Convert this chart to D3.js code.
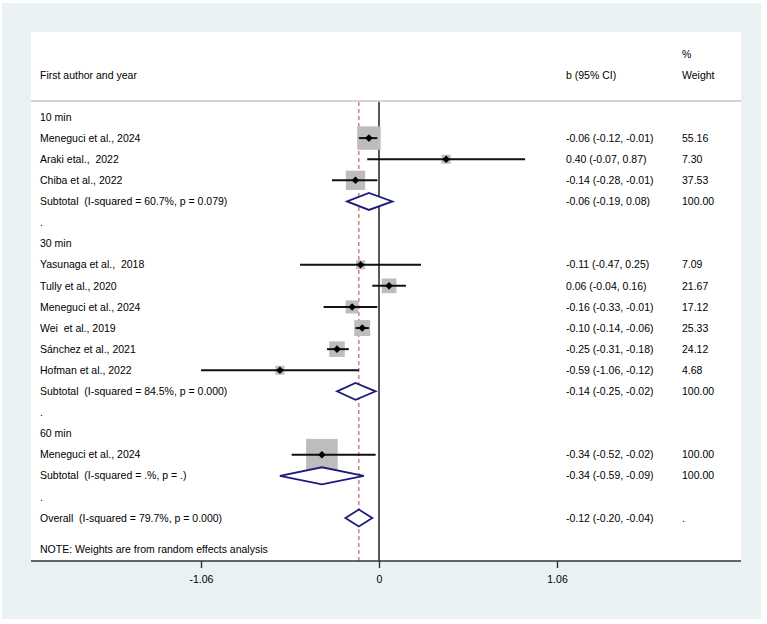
<!DOCTYPE html>
<html>
<head>
<meta charset="utf-8">
<script src="https://cdn.jsdelivr.net/npm/d3@7"></script>
<style>
  html, body { margin: 0; padding: 0; background: #ffffff; }
  svg text { font-family: "Liberation Sans", Arial, sans-serif; font-size: 10.5px; fill: #000000; white-space: pre; }
</style>
</head>
<body>
<svg id="chart" width="767" height="624" xml:space="preserve"></svg>
<script>
// ---------- data ----------
const rowLabels = [
  "10 min",
  "Meneguci et al., 2024",
  "Araki etal.,  2022",
  "Chiba et al., 2022",
  "Subtotal  (I-squared = 60.7%, p = 0.079)",
  ".",
  "30 min",
  "Yasunaga et al.,  2018",
  "Tully et al., 2020",
  "Meneguci et al., 2024",
  "Wei  et al., 2019",
  "Sánchez et al., 2021",
  "Hofman et al., 2022",
  "Subtotal  (I-squared = 84.5%, p = 0.000)",
  ".",
  "60 min",
  "Meneguci et al., 2024",
  "Subtotal  (I-squared = .%, p = .)",
  ".",
  "Overall  (I-squared = 79.7%, p = 0.000)"
];
// row type: h = group heading, s = study, d = pooled diamond, b = blank
const rowTypes = ["h","s","s","s","d","b","h","s","s","s","s","s","s","d","b","h","s","d","b","d"];
const estimates = [null,-0.06,0.40,-0.14,-0.06,null,null,-0.11,0.06,-0.16,-0.10,-0.25,-0.59,-0.14,null,null,-0.34,-0.34,null,-0.12];
const lowerCI  = [null,-0.12,-0.07,-0.28,-0.19,null,null,-0.47,-0.04,-0.33,-0.14,-0.31,-1.06,-0.25,null,null,-0.52,-0.59,null,-0.20];
const upperCI  = [null,-0.01,0.87,-0.01,0.08,null,null,0.25,0.16,-0.01,-0.06,-0.18,-0.12,-0.02,null,null,-0.02,-0.09,null,-0.04];
const ciText   = [null,"-0.06 (-0.12, -0.01)","0.40 (-0.07, 0.87)","-0.14 (-0.28, -0.01)","-0.06 (-0.19, 0.08)",null,null,
                  "-0.11 (-0.47, 0.25)","0.06 (-0.04, 0.16)","-0.16 (-0.33, -0.01)","-0.10 (-0.14, -0.06)","-0.25 (-0.31, -0.18)","-0.59 (-1.06, -0.12)","-0.14 (-0.25, -0.02)",null,null,
                  "-0.34 (-0.52, -0.02)","-0.34 (-0.59, -0.09)",null,"-0.12 (-0.20, -0.04)"];
const weights  = [null,55.16,7.30,37.53,100.00,null,null,7.09,21.67,17.12,25.33,24.12,4.68,100.00,null,null,100.00,100.00,null,null];
const weightText = [null,"55.16","7.30","37.53","100.00",null,null,"7.09","21.67","17.12","25.33","24.12","4.68","100.00",null,null,"100.00","100.00",null,"."];
const overallEffect = -0.12;
const tickValues = [-1.06, 0, 1.06];
const tickLabels = ["-1.06", "0", "1.06"];
const headerLeft = "First author and year";
const headerCI = "b (95% CI)";
const headerW1 = "%";
const headerW2 = "Weight";
const noteText = "NOTE: Weights are from random effects analysis";

// ---------- layout ----------
const svg = d3.select("#chart");
const panel = {x0: 31, x1: 741, y0: 32, y1: 561};
const x = d3.scaleLinear().domain([-1.06, 1.06]).range([201, 557]);
const y = d3.scaleLinear().domain([0, rowLabels.length - 1]).range([117, 518]);
const boxSize = d3.scaleSqrt().domain([0, 100]).range([0, 31.6]);

// outer background
svg.append("rect").attr("x", 2).attr("y", 3).attr("width", 759).attr("height", 616).attr("fill", "#e9f1f3");
// white plot panel
svg.append("rect").attr("x", panel.x0).attr("y", panel.y0).attr("width", panel.x1 - panel.x0).attr("height", panel.y1 - panel.y0).attr("fill", "#ffffff");

// header
const colLabel = 40, colCI = 566, colW = 682;
svg.append("text").attr("x", colLabel).attr("y", 75).attr("dy", "0.35em").text(headerLeft);
svg.append("text").attr("x", colCI).attr("y", 75).attr("dy", "0.35em").text(headerCI);
svg.append("text").attr("x", colW).attr("y", 54).attr("dy", "0.35em").text(headerW1);
svg.append("text").attr("x", colW).attr("y", 75).attr("dy", "0.35em").text(headerW2);
// header separator
svg.append("line").attr("x1", panel.x0).attr("x2", panel.x1).attr("y1", 101).attr("y2", 101)
  .attr("stroke", "#d4d4d4").attr("stroke-width", 2.2);

// reference lines
svg.append("line").attr("x1", x(0)).attr("x2", x(0)).attr("y1", 102).attr("y2", panel.y1)
  .attr("stroke", "#222").attr("stroke-width", 1.5);
svg.append("line").attr("x1", x(overallEffect)).attr("x2", x(overallEffect)).attr("y1", 102).attr("y2", panel.y1)
  .attr("stroke", "#c0505a").attr("stroke-width", 1.1).attr("stroke-dasharray", "4,3");

const rows = rowLabels.map((label, i) => ({
  i, label, type: rowTypes[i], b: estimates[i], lo: lowerCI[i], hi: upperCI[i],
  ci: ciText[i], w: weights[i], wt: weightText[i]
}));

// text columns
svg.append("g").selectAll("text").data(rows).join("text")
  .attr("x", colLabel).attr("y", d => y(d.i)).attr("dy", "0.35em").text(d => d.label);
svg.append("g").selectAll("text").data(rows.filter(d => d.ci)).join("text")
  .attr("x", colCI).attr("y", d => y(d.i)).attr("dy", "0.35em").text(d => d.ci);
svg.append("g").selectAll("text").data(rows.filter(d => d.wt)).join("text")
  .attr("x", colW).attr("y", d => y(d.i)).attr("dy", "0.35em").text(d => d.wt);

// study marks
const studies = rows.filter(d => d.type === "s");
const gS = svg.append("g");
gS.selectAll("rect").data(studies).join("rect")
  .attr("x", d => x(d.b) - Math.max(boxSize(d.w), 9) / 2)
  .attr("y", d => y(d.i) - Math.max(boxSize(d.w), 9) / 2)
  .attr("width", d => Math.max(boxSize(d.w), 9)).attr("height", d => Math.max(boxSize(d.w), 9))
  .attr("fill", "#bdbdbd");
gS.selectAll("line").data(studies).join("line")
  .attr("x1", d => x(d.lo)).attr("x2", d => x(d.hi))
  .attr("y1", d => y(d.i)).attr("y2", d => y(d.i))
  .attr("stroke", "#111").attr("stroke-width", 2);
gS.selectAll("path").data(studies).join("path")
  .attr("d", d => {
    const cx = x(d.b), cy = y(d.i), r = 3.8;
    return `M${cx - r},${cy}L${cx},${cy - r}L${cx + r},${cy}L${cx},${cy + r}Z`;
  })
  .attr("fill", "#000");

// pooled diamonds
const pooled = rows.filter(d => d.type === "d");
svg.append("g").selectAll("path").data(pooled).join("path")
  .attr("d", d => {
    const cy = y(d.i), h = 8.5;
    return `M${x(d.lo)},${cy}L${x(d.b)},${cy - h}L${x(d.hi)},${cy}L${x(d.b)},${cy + h}Z`;
  })
  .attr("fill", "#ffffff").attr("stroke", "#1c1c7c").attr("stroke-width", 1.8)
  .attr("stroke-linejoin", "miter");

// note
svg.append("text").attr("x", colLabel).attr("y", 549).attr("dy", "0.35em").text(noteText);

// x axis
const axisG = svg.append("g").attr("transform", `translate(0,${panel.y1})`);
axisG.call(d3.axisBottom(x).tickValues(tickValues).tickFormat((d, i) => tickLabels[i]).tickSize(7).tickPadding(8));
axisG.select(".domain").remove();
axisG.append("line").attr("x1", panel.x0).attr("x2", panel.x1).attr("y1", 0).attr("y2", 0)
  .attr("stroke", "#333").attr("stroke-width", 1.6);
axisG.selectAll(".tick line").attr("stroke", "#333").attr("stroke-width", 1.4);
axisG.selectAll(".tick text").attr("font-family", "Liberation Sans, Arial, sans-serif").attr("font-size", "10.5px").attr("fill", "#000");
</script>
</body>
</html>
